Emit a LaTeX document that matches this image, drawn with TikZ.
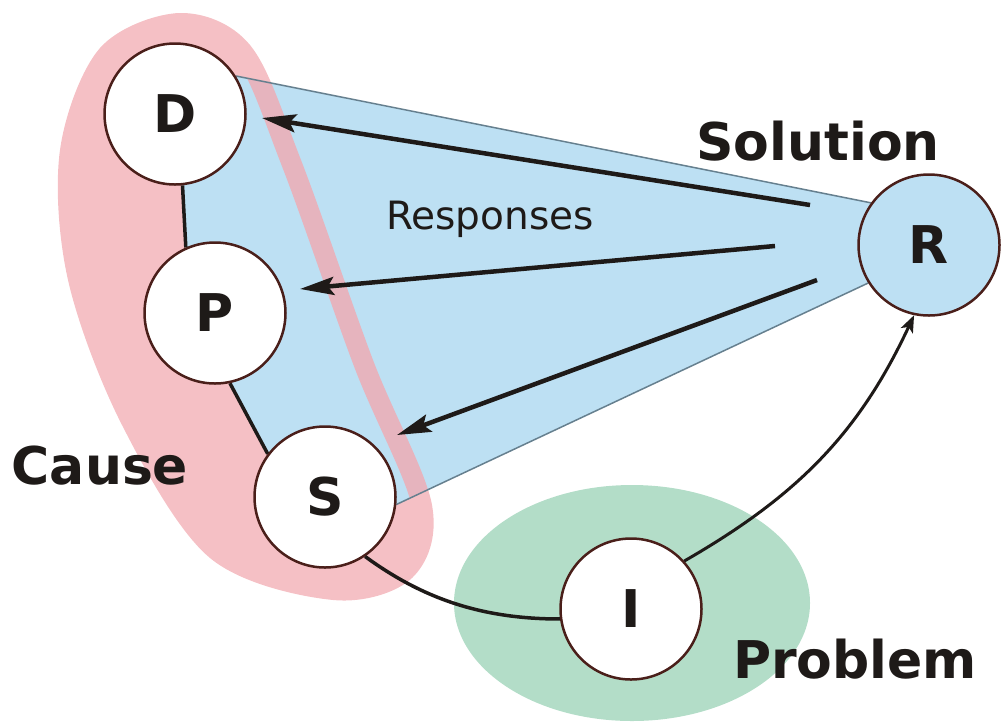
\documentclass[tikz,border=0pt]{standalone}
\usepackage{fontspec}
\setmainfont{DejaVu Sans}
\usetikzlibrary{arrows.meta,backgrounds}
\definecolor{pinkc}{HTML}{F5C0C5}
\definecolor{stripec}{HTML}{E6B4BE}
\definecolor{bluec}{HTML}{BDE0F3}
\definecolor{greenc}{HTML}{B3DDC8}
\definecolor{brownc}{HTML}{4A1F1A}
\definecolor{edgec}{HTML}{66808F}
\definecolor{inkc}{HTML}{1E1A18}
\begin{document}
\begin{tikzpicture}[x=1pt,y=-1pt,
  circ/.style={circle,draw=brownc,line width=2.5pt,fill=white,minimum size=141pt,inner sep=0pt,text=inkc,font=\fontsize{52}{60}\selectfont\bfseries},
  lbl/.style={anchor=base,inner sep=0pt,text=inkc,font=\fontsize{52}{60}\selectfont\bfseries},
  resp/.style={line width=4.5pt,draw=inkc,-{Stealth[length=34pt,width=18pt,inset=6pt]}},
  link/.style={line width=3.5pt,draw=inkc},
  edge/.style={line width=1.5pt,draw=edgec}]
\useasboundingbox (0,0) rectangle (1003,721);
% circles
\node[circ] (D) at (175,114) {D};
\node[circ] (P) at (215,313) {P};
\node[circ] (S) at (325,497) {S};
\node[circ,fill=bluec] (R) at (929,245) {R};
\node[circ] (I) at (631,609) {I};
\begin{scope}[on background layer]
  % cause region
  \fill[pinkc] plot[smooth cycle,tension=0.55] coordinates {(180,13) (250,45) (301,160) (373,360) (432,505) (412,578) (333,600) (210,558) (122,425) (68,280) (60,150) (100,48)};
  % problem region
  \fill[greenc] (632,603) ellipse [x radius=178, y radius=118];
  % solution fan
  \fill[bluec] (D.32) -- (R.144) -- (R.center) -- (R.212) -- (S.-6) -- (S.center) -- (S.143) -- (P.-78) -- (P.center) -- (P.114) -- (D.-84) -- (D.center) -- cycle;
  \begin{scope}
    \clip (D.32) -- (R.144) -- (R.center) -- (R.212) -- (S.-6) -- (S.center) -- (S.143) -- (P.-78) -- (P.center) -- (P.114) -- (D.-84) -- (D.center) -- cycle;
    \clip plot[smooth cycle,tension=0.55] coordinates {(180,13) (250,45) (301,160) (373,360) (432,505) (412,578) (333,600) (210,558) (122,425) (68,280) (60,150) (100,48)};
    \draw[stripec,line width=40pt] plot[smooth cycle,tension=0.55] coordinates {(180,13) (250,45) (301,160) (373,360) (432,505) (412,578) (333,600) (210,558) (122,425) (68,280) (60,150) (100,48)};
  \end{scope}
  \draw[edge] (D.32) -- (R.144);
  \draw[edge] (R.212) -- (S.-6);
  \draw[link] (D.-84) -- (P.114);
  \draw[link] (P.-78) -- (S.143);
\end{scope}
% responses
\coordinate (r1) at (810,205); \coordinate (t1) at (262,118);
\coordinate (r2) at (775,246); \coordinate (t2) at (300,289);
\coordinate (r3) at (817,280); \coordinate (t3) at (397,435);
\draw[resp] (r1) -- (t1);
\draw[resp] (r2) -- (t2);
\draw[resp] (r3) -- (t3);
% curves
\draw[link] (S.-56) .. controls +(56,41) and +(-80,0) .. (I.188);
\draw[line width=3pt,draw=inkc,-{Stealth[length=17pt,width=13pt,inset=4pt]}] (I.42) .. controls +(113,-65) and +(-55,118) .. (R.-102);
% labels
\node[lbl] (sol) at (818,160) {Solution};
\node[lbl] (cause) at (100,484) {Cause};
\node[lbl] (prob) at (855,678) {Problem};
\node[anchor=base,inner sep=0pt,text=inkc,font=\fontsize{39}{45}\selectfont] (resptxt) at (490,229) {Responses};
\end{tikzpicture}
\end{document}
